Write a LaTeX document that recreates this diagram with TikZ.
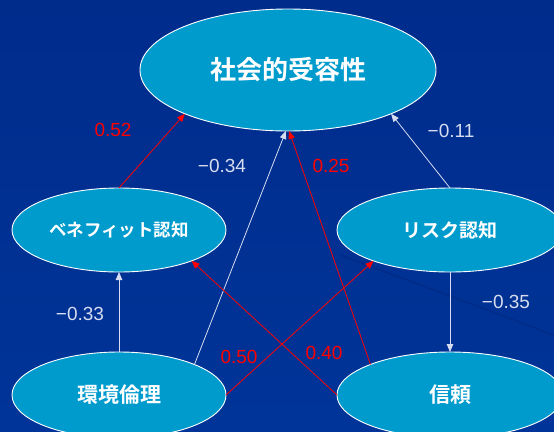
\documentclass[tikz,border=0pt]{standalone}
\usepackage{fontspec}
\setmainfont{Liberation Sans}
\newfontfamily\jp{Noto Sans CJK JP}[BoldFont={Noto Sans CJK JP Bold}]
\usetikzlibrary{shapes.geometric,arrows.meta}
\definecolor{bgtop}{RGB}{0,44,140}
\definecolor{bgbot}{RGB}{0,52,152}
\definecolor{ellfill}{RGB}{0,155,205}
\definecolor{lightln}{RGB}{215,220,240}
\definecolor{swoosh}{RGB}{0,36,120}
\tikzset{
  ell/.style={ellipse, draw=white, line width=0.9pt, fill=ellfill, inner sep=0pt, outer sep=0pt,
              text=white, font=\jp\bfseries},
  posarrow/.style={draw=red, line width=0.8pt, -{Triangle[length=8pt,width=6.5pt]}},
  negarrow/.style={draw=lightln, line width=0.8pt, -{Triangle[length=8pt,width=6.5pt]}},
  poslab/.style={text=red, font=\fontsize{19}{21}\selectfont},
  neglab/.style={text=lightln, font=\fontsize{19}{21}\selectfont},
}
\begin{document}
\begin{tikzpicture}[x=1pt,y=-1pt]
\useasboundingbox (0,0) rectangle (554,431);
\clip (0,0) rectangle (554,431);
\shade[top color=bgtop, bottom color=bgbot] (0,0) rectangle (554,431);
\draw[swoosh, line width=1.2pt, opacity=0.5] (340,255) .. controls (420,285) and (490,310) .. (560,338);
% nodes
\node[ell, minimum width=296pt, minimum height=122pt, font=\jp\bfseries\fontsize{26}{28}\selectfont] (top) at (288,70) {社会的受容性};
\node[ell, minimum width=214pt, minimum height=84pt, font=\jp\bfseries\fontsize{17.5}{20}\selectfont] (benefit) at (119,230) {ベネフィット認知};
\node[ell, minimum width=226pt, minimum height=84pt, font=\jp\bfseries\fontsize{19}{21}\selectfont] (risk) at (450,230) {リスク認知};
\node[ell, minimum width=214pt, minimum height=86pt, font=\jp\bfseries\fontsize{21}{23}\selectfont] (ethics) at (119,395) {環境倫理};
\node[ell, minimum width=226pt, minimum height=86pt, font=\jp\bfseries\fontsize{21}{23}\selectfont] (trust) at (450,395) {信頼};
% connectors
\draw[posarrow] (benefit.north) -- (top.203);
\draw[negarrow] (ethics.22) -- (top.268);
\draw[posarrow] (trust.159) -- (top.271);
\draw[negarrow] (risk.north) -- (top.337);
\draw[negarrow] (ethics.north) -- (benefit.south);
\draw[negarrow] (risk.south) -- (trust.north);
\draw[posarrow] (ethics.east) -- (risk.202);
\draw[posarrow] (trust.west) -- (benefit.337);
% labels
\node[poslab] (l052) at (113,130) {0.52};
\node[neglab] (l034) at (222,166) {−0.34};
\node[poslab] (l025) at (331,166) {0.25};
\node[neglab] (l011) at (451,131) {−0.11};
\node[neglab] (l033) at (80,314) {−0.33};
\node[neglab] (l035) at (506,302) {−0.35};
\node[poslab] (l050) at (239,357) {0.50};
\node[poslab] (l040) at (324,353) {0.40};
\end{tikzpicture}
\end{document}
